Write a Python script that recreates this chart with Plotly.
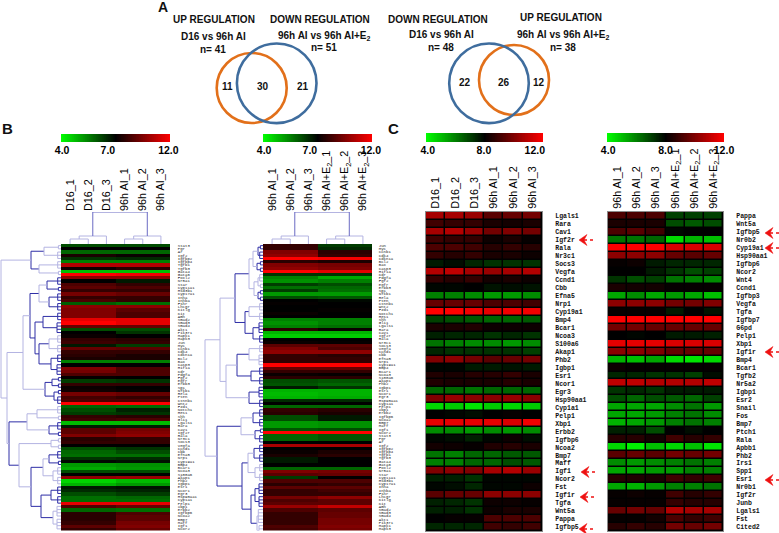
import numpy as np
import plotly.graph_objects as go

W, H = 779, 533

# ---------- Panel C data ----------
c_left_genes = ["Lgals1","Rara","Cav1","Igf2r","Rala","Nr3c1","Socs3","Vegfa","Ccnd1","Cbb","Efna5","Nrp1","Cyp19a1","Bmp4","Bcar1","Ncoa3","S100a6","Akap1","Phb2","Igbp1","Esr1","Ncor1","Egr3","Hsp90aa1","Cyp1a1","Pelp1","Xbp1","Erbb2","Igfbp6","Ncoa2","Bmp7","Maff","Igf1","Ncor2","Fst","Igf1r","Tgfa","Wnt5a","Pappa","Igfbp5"]
c_left_values = [
[10.6,10.6,10.4,9.4,9.6,9.8],[9,8.8,8.8,8.4,8.3,8.4],[10.6,10.8,10.4,9.8,10,9.8],[9,8.8,8.8,8.2,8.4,8.1],
[9.2,9.2,9,8.6,8.8,8.6],[8.8,8.6,8.8,8.4,8.4,8.2],[7.6,7.8,7.4,7.2,7.2,7.2],[10.8,11,10.6,10.4,10.6,10.8],
[8.8,8.6,8.8,8.3,8.4,8.2],[7.9,7.9,8,7.7,7.8,7.7],[6,6,5.8,5.6,5.6,5.8],[9.6,9.6,9.6,9.2,9.2,9],
[12,12,11.8,11.6,11.8,11.8],[7,6.8,6.6,6.4,6.4,6.6],[8.4,8.4,8.5,8.2,8.2,8.2],[7.5,7.4,7.4,7.2,7.4,7.2],
[6.2,6,5.8,5.8,5.6,5.8],[7.4,7.2,7.2,7.2,7.2,7],[10,10.2,9.8,9.4,9.6,9.8],[7.9,7.9,7.6,7.6,7.7,7.6],
[8.5,8.4,8.6,8.6,8.8,8.4],[8.5,8.4,8.4,8.4,8.6,8.4],[6.4,6.4,6.2,6.4,6.4,6.4],[10,10.4,10.2,10.2,10.4,10.2],
[4.6,4.8,4.4,4.8,4.6,4.8],[8,7.9,7.8,8,8.1,8],[11.6,11.6,11.6,11.6,11.4,11.8],[5.8,5.8,5.6,5.8,5.6,5.8],
[7.9,7.8,7.5,7.9,8.2,7.8],[8.3,8.2,8.1,8.5,8.6,8.4],[6.2,6,6.4,6.4,6.6,6.6],[6,6,6.4,6.4,6.8,6.6],
[10,10.2,10,10.6,10.8,10.4],[7.5,7.5,7.2,7.9,7.9,7.9],[7.9,7.8,7.4,7.9,7.9,8.2],[9.4,9.6,9.6,10.2,10.2,10.2],
[7.5,7.4,7.2,8.2,8.2,8.1],[7.5,7.5,7.2,8.2,8.4,8.4],[8,8.1,8.1,9.2,9.2,9.2],[7.4,7.4,7.4,9,8.8,9]]

c_right_genes = ["Pappa","Wnt5a","Igfbp5","Nr0b2","Cyp19a1","Hsp90aa1","Igfbp6","Ncor2","Wnt4","Ccnd1","Igfbp3","Vegfa","Tgfa","Igfbp7","G6pd","Pelp1","Xbp1","Igf1r","Bmp4","Bcar1","Tgfb2","Nr5a2","Igbp1","Esr2","Snail","Fos","Bmp7","Ptch1","Rala","Apbb1","Phb2","Irs1","Spp1","Esr1","Nr0b1","Igf2r","Junb","Lgals1","Fst","Cited2"]
c_right_values = [
[9.2,9.2,9.2,7,7,7],[8.4,8.4,8.4,6.8,6.6,6.8],[9.2,9.4,9,7.9,8,8],[6.2,6.2,6.4,4.6,5.2,5],
[12,12,12,11.4,11.4,11.4],[10.2,10.2,10.2,9.6,9.4,9.6],[8.1,8.2,7.6,7.4,7.4,7.4],[8,8,7.6,7.2,6.8,7],
[7.2,6.8,7,6.2,6,5.8],[8.4,8.3,8.3,8.1,8.1,8.1],[5.4,5.8,5.4,5.6,5.4,5],[10.2,10.2,10.2,9.8,9.8,10],
[8.1,8.1,8.1,7.6,8,7.7],[12,12,12,12,12,12],[9.8,9.8,9.6,9.6,9.6,9.6],[8,7.9,8,7.6,7.6,7.5],
[11.6,11.6,11.6,11.4,11.4,11.4],[10.2,10.2,10,9.6,9.6,9.6],[5.2,5,5.4,4.6,4.4,4.6],[8.2,8.1,8.1,8.1,8.1,8.1],
[7.4,7.4,7.2,7.2,7,7.8],[11,11,10.8,10.8,10.8,11],[7.2,7.4,7.2,7.6,7.6,7.6],[6.8,6.4,6.8,6.6,6.4,7],
[5.4,5.4,5.4,5.8,6.2,5.6],[5.4,5.4,5.6,6,6.2,5.8],[5.2,5.4,5.6,6,6.2,6],[7.5,7.5,6.8,8,7.8,8],
[8.6,8.6,8.3,9,8.6,8.8],[4.6,4.2,5,4.6,5,4.4],[9.4,9.6,9.4,9.8,9.6,9.8],[5.8,5.6,5.8,6,6.2,6],
[5.4,5.4,5.6,5.6,6,6],[8.6,8.5,8.4,9,8.8,9],[5.4,5.2,5.6,6,6,6.2],[8.1,8.2,8.1,9,8.6,8.8],
[8.1,8.1,8.1,8.8,8.6,8.6],[9.6,9.8,9.6,10.8,10.6,10.6],[8.1,8.1,8.3,9.2,8.8,9],[8.6,8.8,8.6,9.8,9.6,9.8]]

# ---------- Panel B data (group level per row: first group, second group) ----------
b_left_values = [
(6.1,6.1),(7,7),(5.8,5.8),(7.5,7.2),(6.4,6.5),(5.5,5.5),(10.5,10.5),(7.3,7.8),(4.75,4.75),(12,11.8),
(9.75,9.75),(7,6.7),(8.5,8),(8.8,8.5),(8,8),(9.3,9),(8,8),(8.5,8),(5.9,5.7),(9.8,9.8),
(9.5,8.8),(9.5,8.5),(9.5,8.5),(11.5,11.5),(12,11.5),(9,9),(6.1,6.1),(7,6.4),(7.2,7),(8,7.8),
(8.2,8),(6.7,6.3),(9,8.8),(8,8),(7.8,7.5),(7.5,7.5),(5.5,5.5),(7,7),(9.5,8.5),(9.3,8.5),
(8.5,8.5),(7.1,7),(6.3,6.4),(8,8),(7.2,7),(7.3,7.1),(9.3,9),(8.3,8),(8.5,8.5),(12,12),(5.8,5.7),
(6.1,6.6),(6.3,6.4),(8,7.8),(8.3,8.5),(4.8,4.8),(6.7,6.7),(8.8,9.3),(8.8,9.5),(9.5,9.8),(7.8,8),
(8,8),(7,7),(6.1,6.4),(5.8,6.1),(5.7,5.7),(6.4,6.5),(6.9,6.8),(5.2,5.3),(5,5.2),(6.1,6.1),
(7,7),(9.8,10),(4.5,4.8),(4.9,5.2),(6.7,6.8),(6.5,6.6),(6.1,6.3),(5.7,5.8),(5.7,5.7),(11.5,11.5),(8.5,9),
(5.8,5.7),(7.8,8.5),(7.8,8.8),(7.8,8.8),(8,9.3),(8.8,9.5),(8,9)]

b_right_values = [
(8,6.3),(8,6.5),(9.5,7.8),(9.8,8),(12,11.8),(7.8,7.5),(9.5,9.3),(9.8,9.5),(12,11.5),(6.4,6.4),
(5.5,5),(5.3,5.5),(6.3,6.1),(5.7,5.8),(6.3,5.7),(5.2,5.2),(6.1,6),(7,6.9),(7.1,7),(7,7),(7,7.1),
(7.2,7),(7,7),(5.5,5.5),(5.3,5.5),(5.5,5.7),(7.8,7.2),(4.9,4.9),(4.6,4.6),(7,7),(7.2,7.1),
(8.8,8.8),(9.5,8.5),(9.8,9.8),(8,7.8),(8,8),(8,8),(12,12),(9,9),(8,8),(7.2,7.1),
(7.8,7.8),(6.1,6),(6,5.8),(6.7,6.4),(4.9,4.9),(4.8,4.9),(4.9,5),(6.5,6.5),(7,7),(5.8,5.8),
(8,7.8),(7.8,7.5),(6.1,6.7),(6.1,6.7),(5.2,5.3),(5.2,5.3),(6,6.1),(12,12),(5.8,6),(5.8,6),
(7,7),(10.3,10.3),(7,7),(7.2,7.5),(7.5,7.8),(6.7,7),(6.7,7),(7,7),(5.8,5.8),(9.5,9.3),
(8.8,9),(6.3,7),(8.5,8.5),(7.8,8),(8.8,8.8),(8,8.3),(8,8),(9.3,9.8),(8.5,8.8),(8.8,8.8),
(10,10.8),(8.5,8.8),(8,9),(8,9),(8,9.3),(8,9.3),(8.5,9.5),(8.3,9.3)]

b_gene_pool = ["Stat3","Pgr","Ar","Igf2","Igfbp2","Igfbp4","Tgfb1","Tgfb3","Gata4","Gata6","Foxl2","Nr5a1","Star","Cyp11a1","Hsd3b1","Cyp17a1","Inha","Inhba","Fshr","Lhcgr","Kitlg","Kit","Amh","Smad2","Smad3","Smad4","Akt1","Pik3r1","Mapk1","Mapk3","Jun","Myc","Ccnb1","Cdk4","Cdkn1a","Bcl2","Bax","Casp3","Hif1a","Kdr","Pdgfa","Fgf2","Egfr","Erbb3","Sp1","Nfkb1","Rela","Pten","Ctnnb1","Wnt2","Fzd1","Notch1","Hes1","Shh","Gli1"] + c_left_genes[:34]

column_labels_d16 = ["D16_1","D16_2","D16_3","96h AI_1","96h AI_2","96h AI_3"]
column_labels_e2 = ["96h AI_1","96h AI_2","96h AI_3","96h AI+E<sub>2</sub>_1","96h AI+E<sub>2</sub>_2","96h AI+E<sub>2</sub>_3"]

# Dendrograms: (distance, shade, child, child); an integer child is a tight cluster of that many rows
b_left_tree = (60,"L",
    (30,"D",(17,"L",2,3),(22,"L",3,2)),
    (54,"L",
        (38,"L",
            (31,"D",(22,"L",(14,"D",3,2),(12,"D",3,3)),
                    (26,"D",(18,"D",3,4),(22,"D",(12,"L",3,3),(10,"D",3,4)))),
            (16,"D",(9,"D",2,2),(7,"D",2,3))),
        (52,"D",
            (34,"L",(24,"L",3,2),(12,"D",3,2)),
            (42,"L",(10,"L",2,2),
                (30,"D",(18,"L",(12,"D",3,2),(8,"L",3,3)),
                        (20,"D",(10,"D",3,3),(8,"L",4,4)))))))
b_right_tree = (58,"L",
    (43,"L",
        (28,"D",(14,"L",(10,"L",(5,"D",2,3),(6,"D",2,2)),(9,"L",(5,"L",3,2),(5,"D",2,2))),
                (18,"D",(14,"L",3,3),(10,"D",4,3))),
        (37,"L",(26,"D",(14,"L",3,4),(12,"D",3,3)),(14,"D",4,3))),
    (46,"D",
        (22,"L",(10,"D",3,3),(8,"D",2,3)),
        (21,"D",(15,"L",(9,"D",3,3),(8,"L",3,3)),(12,"D",(8,"D",4,4),(6,"L",5,4)))))
col_tree = (32,"T",
    (8,"L",(5,"L",1,1),1),
    (8,"L",(5,"L",1,1),1))

SHADE = {"D":"#2e2ea6","L":"#b4b4e2","T":"#6a6ac4"}

# ---------- Helpers ----------
def xp(x): return x/W
def yp(y): return 1-y/H

def walk(node, start, segs):
    if isinstance(node, int):
        return start+(node-1)/2, None, start+node
    d, shade, a, b = node
    cs = []
    nxt = start
    for ch in (a, b):
        c, dc, nxt2 = walk(ch, nxt, segs)
        if dc is None:
            n = ch
            if n > 1:
                dl = 1.2+0.7*n
                segs[shade].append((dl,nxt,dl,nxt+n-1))
                for k in range(n):
                    segs[shade].append((dl,nxt+k,0,nxt+k))
                dc = dl
            else:
                dc = 0
        segs[shade].append((d,c,dc,c))
        cs.append(c)
        nxt = nxt2
    segs[shade].append((d,cs[0],d,cs[1]))
    return (cs[0]+cs[1])/2, d, nxt

def tree_xy(tree):
    segs = {k:[] for k in SHADE}
    walk(tree, 0, segs)
    out = {}
    for k, v in segs.items():
        ds, ps = [], []
        for d0,p0,d1,p1 in v:
            ds += [d0,d1,None]; ps += [p0,p1,None]
        out[k] = (ds, ps)
    return out

fig = go.Figure()
layout = {}
axis_n = [0]
def new_axes(x0, x1, y0, y1, xopt, yopt):
    axis_n[0] += 1
    n = axis_n[0]
    sx = "" if n == 1 else str(n)
    base = dict(showgrid=False, zeroline=False, showticklabels=False, ticks="", showline=False, automargin=False)
    ax = dict(base); ax.update(domain=[xp(x0), xp(x1)], anchor="y"+sx); ax.update(xopt)
    ay = dict(base); ay.update(domain=[yp(y1), yp(y0)], anchor="x"+sx); ay.update(yopt)
    layout["xaxis"+sx] = ax
    layout["yaxis"+sx] = ay
    return "x"+sx, "y"+sx

CS_B = [[0,"#00ff00"],[0.375,"#000000"],[1,"#ff0000"]]
CS_C = [[0,"#00ff00"],[0.5,"#000000"],[1,"#ff0000"]]
CS_BAR = CS_C
LEG_FONT = dict(family="Liberation Sans", size=10.5, color="#000000", weight=600)
COL_FONT = dict(family="Liberation Sans", size=10.8, color="#000000")

def add_bar(x0, x1, y0, y1, ticks, labels):
    xa, ya = new_axes(x0, x1, y0, y1,
        dict(range=[0,1], tickmode="array", tickvals=ticks, ticktext=labels, showticklabels=True,
             side="bottom", tickfont=LEG_FONT, ticklen=0),
        dict(range=[-0.5,0.5]))
    lv = np.linspace(0, 1, 161)
    fig.add_trace(go.Heatmap(z=[lv.tolist()], x=lv.tolist(), y=[0], colorscale=CS_BAR, zmin=0, zmax=1,
                             showscale=False, hoverinfo="skip", xaxis=xa, yaxis=ya))

shapes = []
def add_heat(values, x0, x1, y0, y1, cs, zmin, zmax, genes, label_font, label_off, col_labels=None, gap=0, border=None):
    n = len(values)
    xopt = dict(range=[-0.5,5.5])
    if col_labels:
        xopt.update(tickmode="array", tickvals=list(range(6)), ticktext=col_labels, showticklabels=True,
                    side="top", tickangle=-90, ticklen=0, tickfont=COL_FONT)
    yopt = dict(range=[n-0.5,-0.5], tickmode="array", tickvals=list(range(n)), ticktext=genes,
                showticklabels=True, side="right", ticks="outside", ticklen=label_off, tickwidth=0,
                tickcolor="rgba(0,0,0,0)", tickfont=label_font)
    if border:
        for o in (xopt, yopt):
            o.update(showline=True, linecolor=border, linewidth=1, mirror=True)
        shapes.append(dict(type="rect", xref="paper", yref="paper", layer="below", x0=xp(x0), x1=xp(x1), y0=yp(y1), y1=yp(y0),
                           fillcolor="#000000", line=dict(width=0)))
    xa, ya = new_axes(x0, x1, y0, y1, xopt, yopt)
    fig.add_trace(go.Heatmap(z=values, x=list(range(6)), y=list(range(n)), colorscale=cs, zmin=zmin, zmax=zmax,
                             showscale=False, xgap=gap, ygap=gap, hoverinfo="skip", xaxis=xa, yaxis=ya))

def add_row_tree(tree, n, x0, x1, y0, y1, dmax):
    xa, ya = new_axes(x0, x1, y0, y1, dict(range=[dmax,0]), dict(range=[n-0.5,-0.5]))
    for shade, (ds, ps) in tree_xy(tree).items():
        if ds:
            fig.add_trace(go.Scatter(x=ds, y=ps, mode="lines", line=dict(color=SHADE[shade], width=1),
                                     hoverinfo="skip", showlegend=False, xaxis=xa, yaxis=ya))

def add_col_tree(tree, x0, x1, y0, y1, col_labels):
    xa, ya = new_axes(x0, x1, y0, y1,
        dict(range=[-0.5,5.5], tickmode="array", tickvals=list(range(6)), ticktext=col_labels,
             showticklabels=True, side="top", tickangle=-90, ticklen=0, tickfont=COL_FONT),
        dict(range=[0,y1-y0]))
    for shade, (ds, ps) in tree_xy(tree).items():
        if ds:
            fig.add_trace(go.Scatter(x=ps, y=ds, mode="lines", line=dict(color=SHADE[shade], width=1),
                                     hoverinfo="skip", showlegend=False, xaxis=xa, yaxis=ya))

def expand(pairs):
    return [[a,a,a,b,b,b] for a,b in pairs]

B_TOP, B_BOT = 244, 530.5
C_TOP, C_BOT = 212, 531
tiny = dict(family="Liberation Mono", size=4, color="#222222")
small = dict(family="Liberation Mono", size=6.5, color="#111111", weight=600)

# Panel B
add_bar(61, 170, 134, 142, [0.01,0.43,0.985], ["4.0","7.0","12.0"])
add_bar(263, 372, 134, 142, [0.01,0.43,0.99], ["4.0","7.0","12.0"])
add_row_tree(b_left_tree, 89, 0, 61, B_TOP, B_BOT, 61)
add_row_tree(b_right_tree, 89, 200, 263, B_TOP, B_BOT, 63)
add_col_tree(col_tree, 61, 170, 212, B_TOP, column_labels_d16)
add_col_tree(col_tree, 263, 372, 212, B_TOP, column_labels_e2)
add_heat(expand(b_left_values), 61, 170, B_TOP, B_BOT, CS_B, 4, 12, b_gene_pool, tiny, 6)
add_heat(expand(b_right_values), 263, 372, B_TOP, B_BOT, CS_B, 4, 12, b_gene_pool[30:]+b_gene_pool[:30], tiny, 5)

# Panel C
add_bar(426, 543, 133, 142, [0.015,0.495,0.93], ["4.0","8.0","12.0"])
add_bar(607, 724, 133, 142, [0.01,0.5,1.0], ["4.0","8.0","12.0"])
add_heat(c_left_values, 426, 542, C_TOP, C_BOT, CS_C, 4, 12, c_left_genes, small, 11, column_labels_d16, 1.5, "#8a8a8a")
add_heat(c_right_values, 608, 723, C_TOP, C_BOT, CS_C, 4, 12, c_right_genes, small, 11, column_labels_e2, 1.5, "#8a8a8a")

# Venn circles
ORANGE, BLUE = "#E2701A", "#3F6D9E"
def circle(cx, cy, r, color):
    shapes.append(dict(type="circle", xref="paper", yref="paper", x0=xp(cx-r), x1=xp(cx+r), y0=yp(cy+r), y1=yp(cy-r),
                       line=dict(color=color, width=2.6), fillcolor="rgba(0,0,0,0)"))
circle(251.7, 88, 35, ORANGE)
circle(276.7, 83.3, 39.8, BLUE)
circle(514, 80, 35, ORANGE)
circle(489, 83.3, 39.8, BLUE)

# Red dotted arrows
def arrow(x, y):
    shapes.append(dict(type="path", xref="paper", yref="paper",
        path=f"M {xp(x)} {yp(y)} L {xp(x+8)} {yp(y-5.5)} L {xp(x+5)} {yp(y)} L {xp(x+8)} {yp(y+5.5)} Z",
        fillcolor="#ee1111", line=dict(color="#ee1111", width=0.5)))
    shapes.append(dict(type="line", xref="paper", yref="paper", x0=xp(x+5), x1=xp(x+16), y0=yp(y), y1=yp(y),
                       line=dict(color="#ee1111", width=1.5, dash="dot")))
for ax_, ay_ in [(579,240),(581,472),(580,497),(579,529),(765,233),(765,248),(765,352),(765,480)]:
    arrow(ax_, ay_)

# Text
ann = []
def text(x, y, s, size=10, bold=True):
    ann.append(dict(xref="paper", yref="paper", x=xp(x), y=yp(y), text=("<b>%s</b>" % s) if bold else s, showarrow=False,
                    xanchor="center", yanchor="middle", font=dict(family="Liberation Sans", size=size, color="#111111")))
text(163,7,"A",14); text(8,128,"B",15); text(393,128,"C",15)
E2 = "96h AI vs 96h AI+E<sub>2</sub>"
for x,y,s in [(214,20,"UP REGULATION"),(320,19,"DOWN REGULATION"),(438,19,"DOWN REGULATION"),(561,18,"UP REGULATION"),
              (213,36,"D16 vs 96h AI"),(324,36,E2),(441,35,"D16 vs 96h AI"),(563,35,E2),
              (213,49,"n= 41"),(324,48,"n= 51"),(441,48,"n= 48"),(563,47,"n= 38"),
              (227,86,"11"),(263,86,"30"),(303,86,"21"),(465,82,"22"),(504,82,"26"),(539,82,"12")]:
    text(x,y,s,10)

layout.update(width=W, height=H, autosize=False, margin=dict(l=0,r=0,t=0,b=0), paper_bgcolor="white",
              plot_bgcolor="rgba(0,0,0,0)", showlegend=False, shapes=shapes, annotations=ann)
fig.update_layout(**layout)
fig.write_html("out.html", config=dict(displayModeBar=False),
               post_script="document.body.style.margin='0';document.documentElement.style.overflow='hidden';")
